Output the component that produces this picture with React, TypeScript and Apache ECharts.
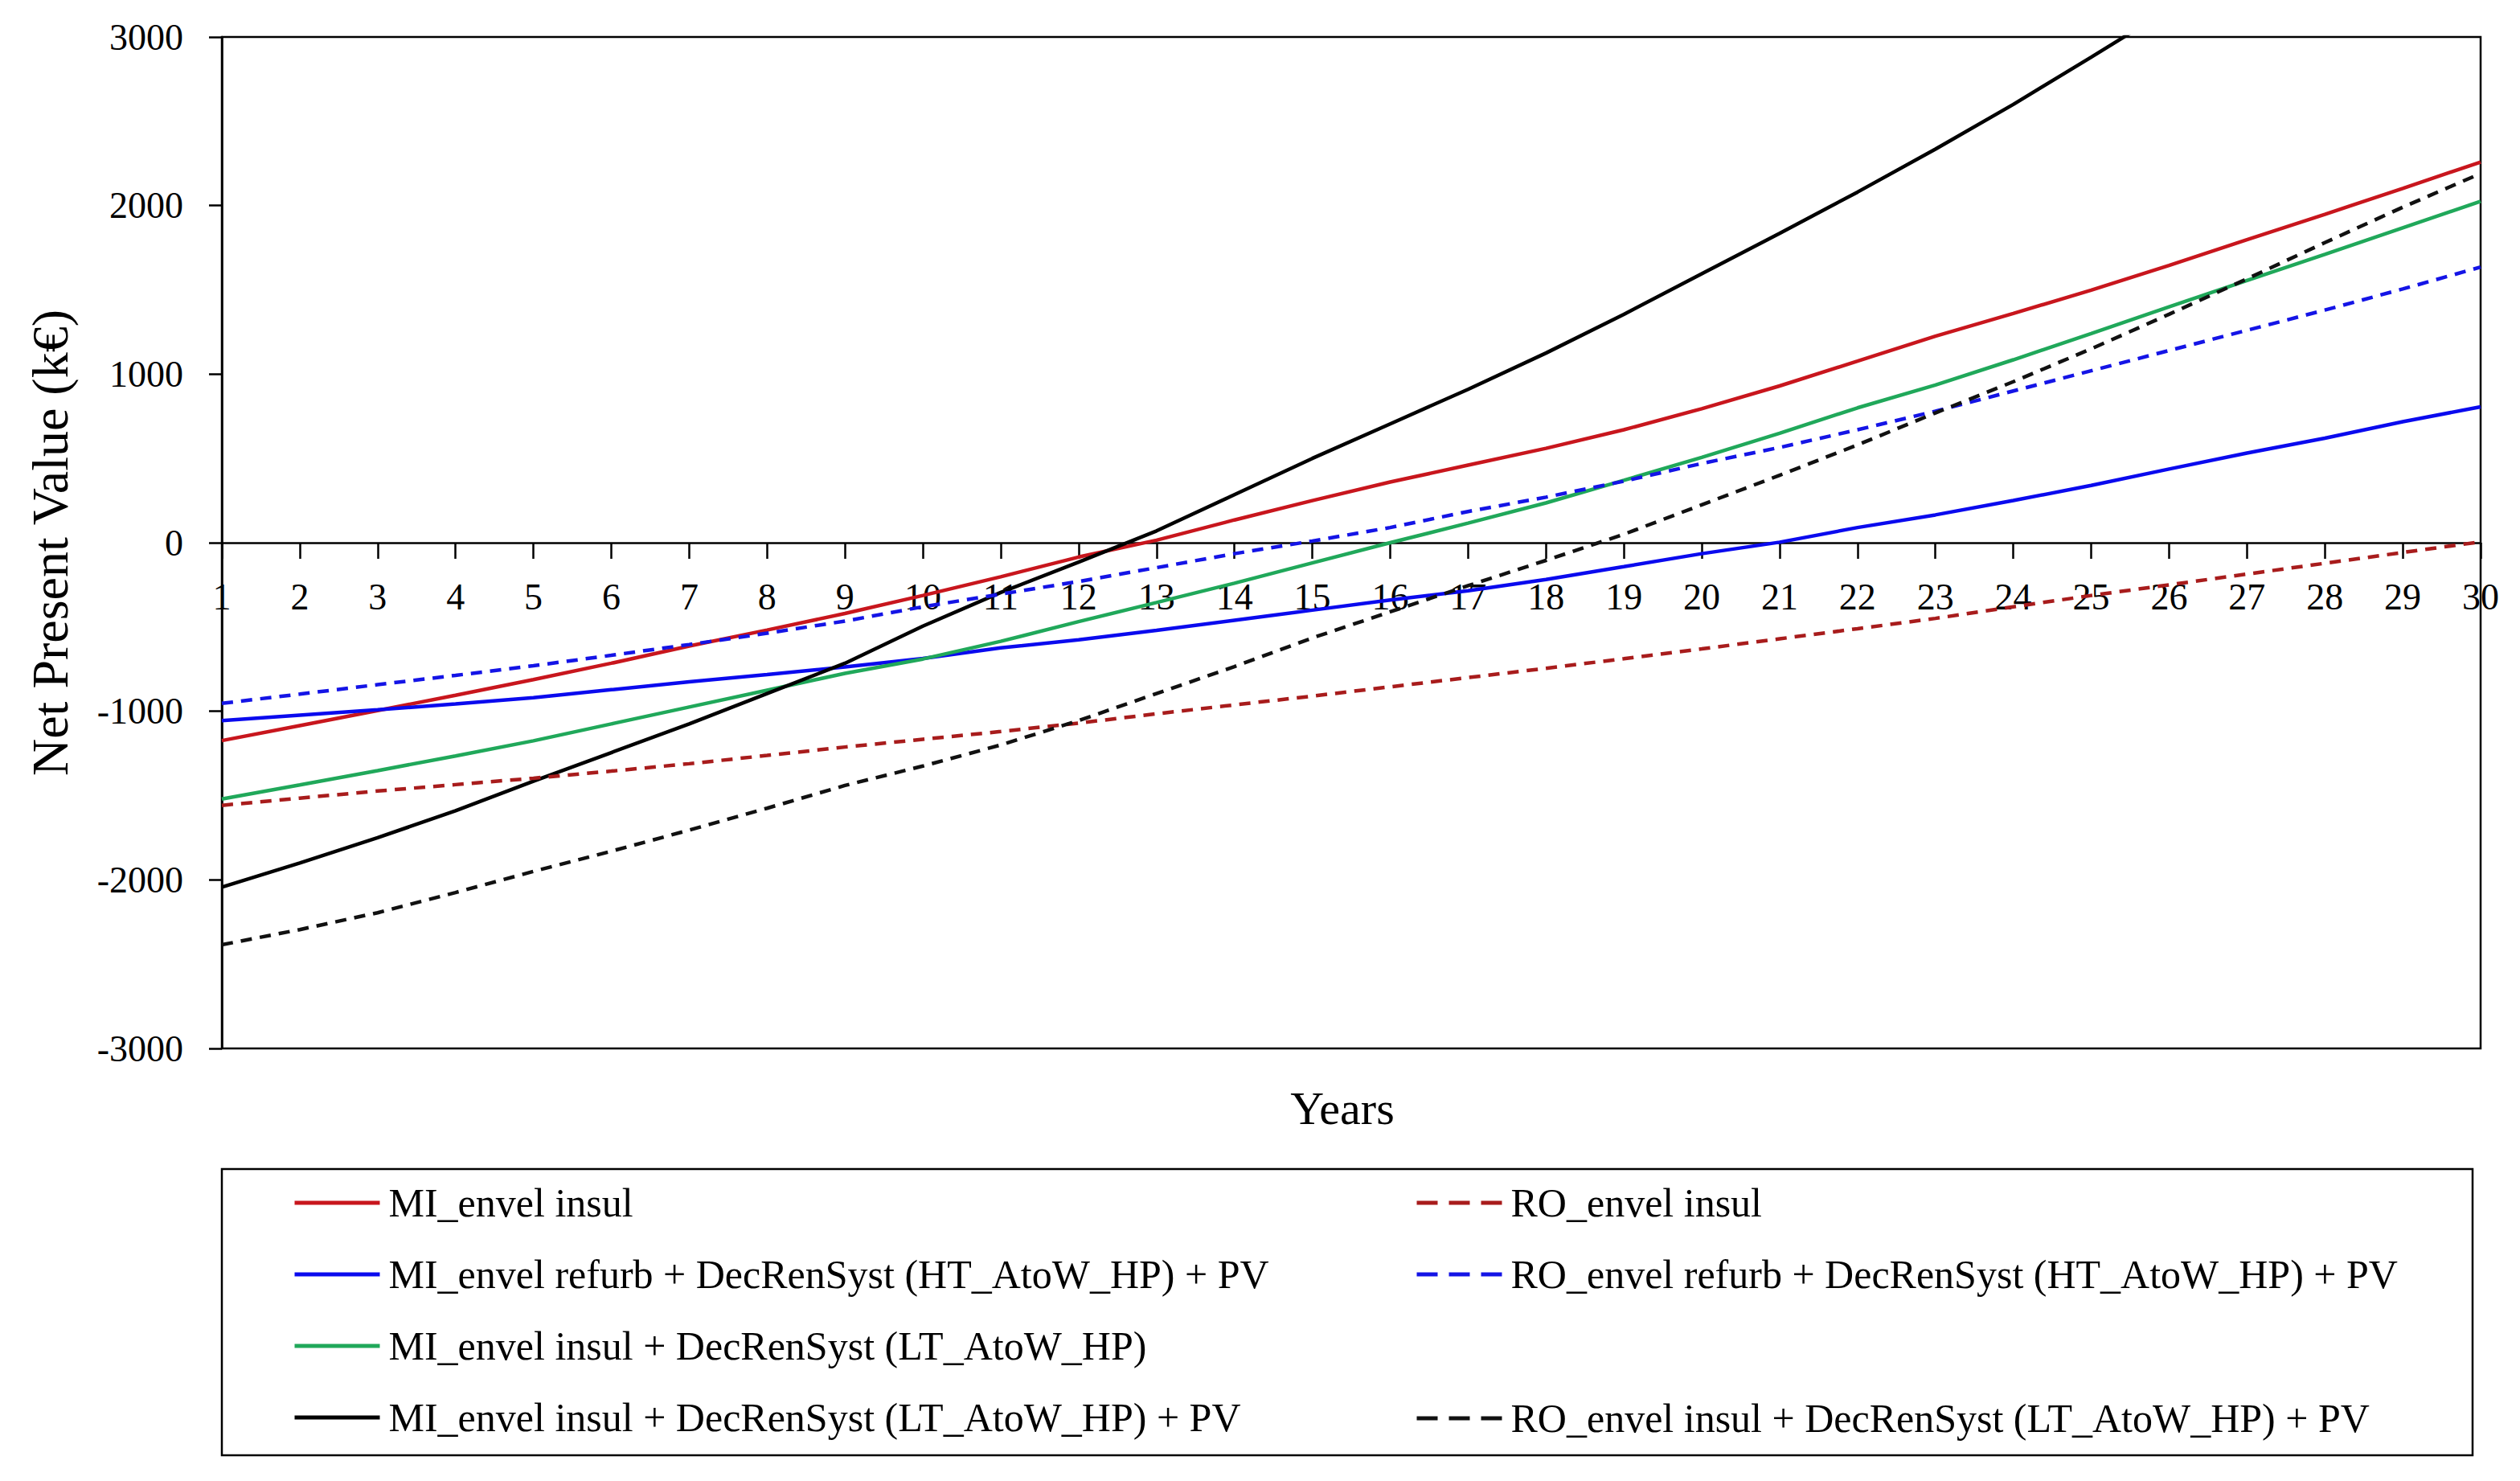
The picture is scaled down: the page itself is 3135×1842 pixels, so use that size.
import React, { useEffect, useRef } from "react";
import * as echarts from "echarts";

// ---------- data ----------
const years = [
  "1", "2", "3", "4", "5", "6", "7", "8", "9", "10",
  "11", "12", "13", "14", "15", "16", "17", "18", "19", "20",
  "21", "22", "23", "24", "25", "26", "27", "28", "29", "30",
];

const yTicks = { min: -3000, max: 3000, interval: 1000 };

const miEnvelInsul = [
  -1174, -1085, -996, -905, -812, -715, -613, -518, -420, -313,
  -202, -85, 15, 135, 250, 360, 460, 560, 670, 795,
  930, 1077, 1225, 1360, 1498, 1645, 1798, 1948, 2102, 2258,
];
const miRefurbHTPV = [
  -1055, -1023, -991, -956, -919, -872, -825, -782, -737, -687,
  -624, -576, -520, -460, -400, -340, -285, -218, -142, -65,
  3, 90, 165, 250, 340, 437, 532, 620, 718, 806,
];
const miInsulLT = [
  -1520, -1437, -1352, -1265, -1175, -1075, -975, -875, -775, -690,
  -585, -468, -355, -240, -120, 0, 116, 236, 370, 506,
  649, 800, 935, 1085, 1241, 1399, 1556, 1711, 1868, 2025,
];
const miInsulLTPV = [
  -2043, -1900, -1750, -1590, -1415, -1245, -1075, -895, -715, -495,
  -295, -115, 70, 285, 500, 705, 910, 1125, 1355, 1595,
  1835, 2080, 2335, 2600, 2880, 3165, null, null, null, null,
];
const roEnvelInsul = [
  -1558, -1515, -1473, -1435, -1397, -1355, -1311, -1262, -1212, -1166,
  -1120, -1070, -1015, -962, -910, -855, -800, -745, -688, -630,
  -570, -510, -449, -380, -313, -250, -186, -122, -58, 5,
];
const roRefurbHTPV = [
  -953, -898, -842, -787, -730, -668, -604, -537, -465, -380,
  -305, -230, -148, -65, 10, 90, 185, 270, 365, 470,
  565, 670, 780, 900, 1020, 1140, 1260, 1380, 1505, 1635,
];
const roInsulLTPV = [
  -2385, -2295, -2195, -2075, -1950, -1830, -1705, -1575, -1440, -1325,
  -1200, -1055, -895, -735, -565, -410, -255, -105, 50, 225,
  400, 580, 770, 955, 1150, 1355, 1565, 1780, 1990, 2190,
];

const names = {
  miInsul: "MI_envel insul",
  miRefurb: "MI_envel refurb + DecRenSyst (HT_AtoW_HP) + PV",
  miLT: "MI_envel insul + DecRenSyst (LT_AtoW_HP)",
  miLTPV: "MI_envel insul + DecRenSyst (LT_AtoW_HP) + PV",
  roInsul: "RO_envel insul",
  roRefurb: "RO_envel refurb + DecRenSyst (HT_AtoW_HP) + PV",
  roLTPV: "RO_envel insul + DecRenSyst (LT_AtoW_HP) + PV",
};

const FONT = "Liberation Serif";

const GRID = { left: 276, right: 49, top: 46, bottom: 538 };
const CHART_H = 1842;

export default function App() {
  const ref = useRef<HTMLDivElement>(null);

  useEffect(() => {
    document.body.style.margin = "0";
    document.body.style.overflow = "hidden";
    const chart = echarts.init(ref.current as HTMLDivElement, null, { renderer: "svg" });

    const line = (name: string, data: (number | null)[], color: string, dashed: boolean) => ({
      name,
      type: "line",
      data,
      symbol: "none",
      showSymbol: false,
      clip: true,
      connectNulls: false,
      lineStyle: { color, width: 4.5, type: dashed ? [14, 10] : "solid" },
      itemStyle: { color },
    });

    const legendCommon = {
      orient: "vertical",
      padding: 0,
      itemWidth: 106,
      itemHeight: 14,
      itemGap: 39,
      itemStyle: { opacity: 0, borderWidth: 0 },
      textStyle: { fontFamily: FONT, fontSize: 50, color: "#000", lineHeight: 50, padding: [0, 0, 0, 6] },
      selectedMode: false,
    };

    // pixel offset of the zero line from the grid bottom, for the label axis
    const plotH = CHART_H - GRID.top - GRID.bottom;
    const zeroFromBottom = (plotH * (0 - yTicks.min)) / (yTicks.max - yTicks.min);

    chart.setOption({
      animation: false,
      backgroundColor: "#fff",
      grid: {
        ...GRID,
        show: true,
        borderColor: "#000",
        borderWidth: 2.5,
        containLabel: false,
        outerBoundsMode: "none",
      },
      xAxis: [
        {
          type: "category",
          data: years,
          boundaryGap: false,
          axisLine: { onZero: true, lineStyle: { color: "#000", width: 2.5 } },
          axisTick: { show: true, inside: false, length: 20, interval: 0, lineStyle: { color: "#000", width: 2.5 } },
          axisLabel: { show: false },
          splitLine: { show: false },
        },
        {
          type: "category",
          data: years,
          boundaryGap: false,
          position: "bottom",
          offset: -zeroFromBottom,
          axisLine: { show: false, onZero: false },
          axisTick: { show: false },
          axisLabel: { interval: 0, margin: 44, fontFamily: FONT, fontSize: 46, color: "#000" },
          splitLine: { show: false },
        },
      ],
      yAxis: {
        type: "value",
        min: yTicks.min,
        max: yTicks.max,
        interval: yTicks.interval,
        axisLine: { show: true, lineStyle: { color: "#000", width: 2.5 } },
        axisTick: { show: true, inside: false, length: 16, lineStyle: { color: "#000", width: 2.5 } },
        axisLabel: {
          margin: 48,
          fontFamily: FONT,
          fontSize: 46,
          color: "#000",
          formatter: (v: number) => String(v),
        },
        splitLine: { show: false },
      },
      legend: [
        {
          ...legendCommon,
          left: 364,
          top: 1471,
          lineStyle: { width: 5 },
          data: [names.miInsul, names.miRefurb, names.miLT, names.miLTPV],
        },
        {
          ...legendCommon,
          left: 1760,
          top: 1471,
          lineStyle: { type: [26, 14], width: 5 },
          data: [names.roInsul, names.roRefurb],
        },
        {
          ...legendCommon,
          left: 1760,
          top: 1739,
          lineStyle: { type: [26, 14], width: 5 },
          data: [names.roLTPV],
        },
      ],
      graphic: [
        {
          type: "rect",
          shape: { x: 276, y: 1454, width: 2800, height: 356 },
          style: { fill: "none", stroke: "#000", lineWidth: 2.5 },
          silent: true,
        },
        {
          type: "text",
          x: 1670,
          y: 1378,
          style: {
            text: "Years",
            fontFamily: FONT,
            fontSize: 58,
            fill: "#000",
            textAlign: "center",
            textVerticalAlign: "middle",
          },
        },
        {
          type: "text",
          x: 62,
          y: 675,
          rotation: Math.PI / 2,
          style: {
            text: "Net Present Value (k€)",
            fontFamily: FONT,
            fontSize: 64,
            fill: "#000",
            textAlign: "center",
            textVerticalAlign: "middle",
          },
        },
      ],
      series: [
        line(names.miInsul, miEnvelInsul, "#C8161D", false),
        line(names.miRefurb, miRefurbHTPV, "#0A0AEE", false),
        line(names.miLT, miInsulLT, "#20A85A", false),
        line(names.miLTPV, miInsulLTPV, "#000000", false),
        line(names.roInsul, roEnvelInsul, "#A81C1C", true),
        line(names.roRefurb, roRefurbHTPV, "#1414E6", true),
        line(names.roLTPV, roInsulLTPV, "#111111", true),
      ],
    });

    return () => chart.dispose();
  }, []);

  return <div ref={ref} style={{ width: 3135, height: CHART_H }} />;
}
